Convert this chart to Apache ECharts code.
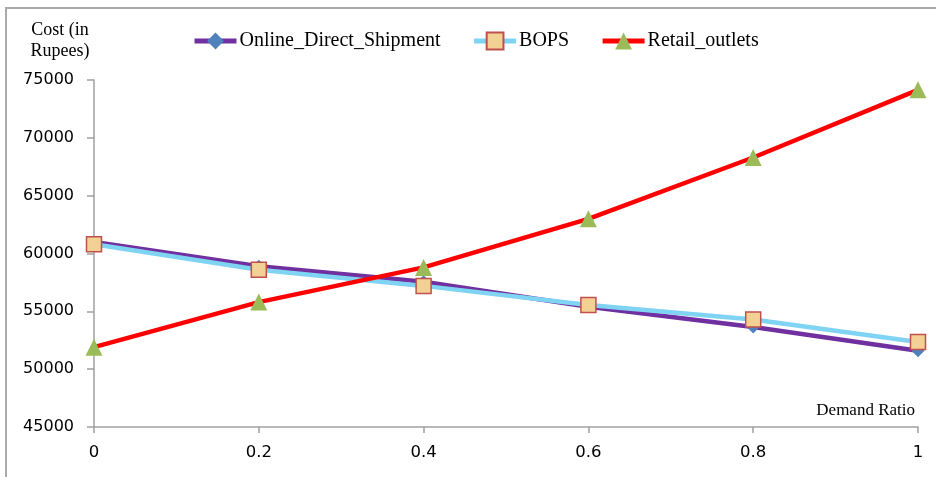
<!DOCTYPE html>
<html>
<head>
<meta charset="utf-8">
<script src="https://cdn.jsdelivr.net/npm/echarts@6/dist/echarts.min.js"></script>
<style>
html,body{margin:0;padding:0;background:#fff;}
#frame{position:absolute;left:5px;top:7px;width:940px;height:480px;border-top:2px solid #aaaaaa;border-left:2px solid #aaaaaa;box-sizing:border-box;}
#chart{position:absolute;left:0;top:0;width:936px;height:477px;}
</style>
</head>
<body>
<div id="frame"></div>
<div id="chart"></div>
<script>
const demandRatio = [0, 0.2, 0.4, 0.6, 0.8, 1];
const onlineDirect = [61000, 58900, 57550, 55400, 53650, 51600];
const bops = [60800, 58600, 57200, 55550, 54300, 52350];
const retailOutlets = [51900, 55800, 58800, 63000, 68300, 74150];
const seriesNames = ['Online_Direct_Shipment', 'BOPS', 'Retail_outlets'];

function pairs(vals){ return demandRatio.map((x,i)=>[x, vals[i]]); }

const chart = echarts.init(document.getElementById('chart'));
const serif = '"Liberation Serif", "Times New Roman", serif';
const sans = '"DejaVu Sans", sans-serif';
chart.setOption({
  animation: false,
  legend: {
    top: 26, left: 187,
    itemWidth: 42, itemHeight: 21, itemGap: 31,
    lineStyle: {width: 5},
    textStyle: {fontFamily: serif, fontSize: 20, color: '#000', padding: [0,0,0,-2]},
    data: seriesNames
  },
  grid: {left: 94, right: 18, top: 80, bottom: 50},
  xAxis: {
    type: 'value', min: 0, max: 1, interval: 0.2,
    name: 'Demand Ratio', nameLocation: 'end', nameGap: -3,
    nameTextStyle: {fontFamily: serif, fontSize: 17, color: '#000', align: 'right', verticalAlign: 'bottom', padding: [0,0,8,0]},
    axisLine: {lineStyle: {color: '#a0a0a0', width: 1.5}},
    axisTick: {show: true, length: 6, lineStyle: {color: '#a0a0a0', width: 1.5}},
    axisLabel: {fontFamily: sans, fontSize: 16.5, color: '#000', margin: 17},
    splitLine: {show: false}
  },
  yAxis: {
    type: 'value', min: 45000, max: 75000, interval: 5000,
    name: 'Cost (in\nRupees)', nameLocation: 'end', nameGap: 18,
    nameTextStyle: {fontFamily: serif, fontSize: 18, color: '#000', align: 'center', verticalAlign: 'bottom', lineHeight: 21, padding: [0, 68, 0, 0]},
    axisLine: {show: true, lineStyle: {color: '#a0a0a0', width: 1.5}},
    axisTick: {show: true, length: 7, lineStyle: {color: '#a0a0a0', width: 1.5}},
    axisLabel: {fontFamily: sans, fontSize: 16, color: '#000', margin: 20, formatter: v => String(v)},
    splitLine: {show: false}
  },
  series: [
    {
      name: seriesNames[0], type: 'line', data: pairs(onlineDirect),
      lineStyle: {color: '#7030a0', width: 4.5},
      itemStyle: {color: '#4f81bd'},
      symbol: 'diamond', symbolSize: 13
    },
    {
      name: seriesNames[1], type: 'line', data: pairs(bops),
      lineStyle: {color: '#7fd3f3', width: 4.5},
      itemStyle: {color: '#f3d195', borderColor: '#c0504d', borderWidth: 1.5},
      symbol: 'rect', symbolSize: 15
    },
    {
      name: seriesNames[2], type: 'line', data: pairs(retailOutlets),
      lineStyle: {color: '#ff0000', width: 4.5},
      itemStyle: {color: '#9bbb59'},
      symbol: 'triangle', symbolSize: 17
    }
  ]
});
</script>
</body>
</html>
